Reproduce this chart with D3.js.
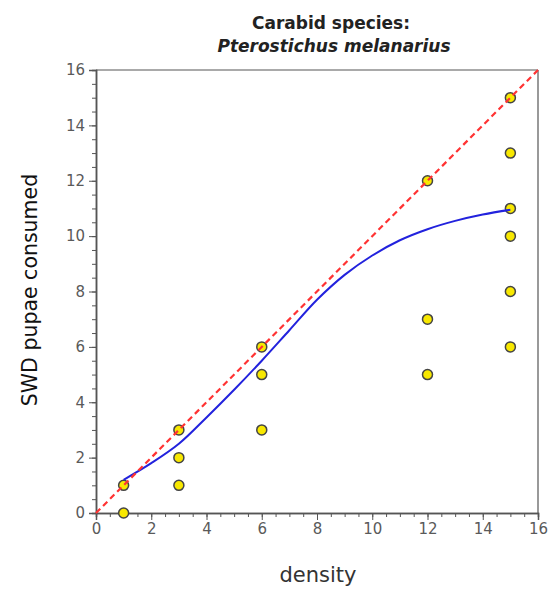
<!DOCTYPE html>
<html><head><meta charset="utf-8">
<script src="https://cdn.jsdelivr.net/npm/d3@7"></script>
<style>body{margin:0;background:#fff;} svg{display:block;}</style>
</head><body>
<svg id="c" width="558" height="591"></svg>
<script>
const pointX = [1,1, 3,3,3, 6,6,6, 12,12,12, 15,15,15,15,15,15];
const pointY = [0,1, 1,2,3, 3,5,6, 5,7,12, 6,8,10,11,13,15];
const curveX = [1,2,3,4,5,6,7,8,9,10,11,12,13,14,15];
const curveY = [1.2,1.8,2.5,3.45,4.45,5.5,6.6,7.7,8.6,9.3,9.85,10.25,10.55,10.78,10.95];
const refLine = [0,16];
const xTicks = [0,2,4,6,8,10,12,14,16];
const yTicks = [0,2,4,6,8,10,12,14,16];

const svg = d3.select("#c");
const L=96, R=538, T=70, B=513;
const x = d3.scaleLinear().domain([0,16]).range([L,R]);
const y = d3.scaleLinear().domain([0,16]).range([B,T]);
const axisCol="#555", font="DejaVu Sans, Verdana, sans-serif";

// frame top & right
svg.append("line").attr("x1",L).attr("x2",R).attr("y1",T).attr("y2",T).attr("stroke","#555").attr("stroke-width",1);
svg.append("line").attr("x1",R).attr("x2",R).attr("y1",T).attr("y2",B).attr("stroke","#999").attr("stroke-width",2);

const minor = d3.range(0,16.01,0.5);
function styleAxis(g){
  g.select(".domain").attr("stroke",axisCol).attr("stroke-width",1.5);
  g.selectAll("line").attr("stroke",axisCol);
  g.selectAll("text").attr("fill","#5a5a5a").attr("font-family",font).attr("font-size","15px");
}
// minor ticks
svg.append("g").attr("transform",`translate(0,${B})`).call(d3.axisBottom(x).tickValues(minor).tickSize(4).tickFormat("")).call(styleAxis);
svg.append("g").attr("transform",`translate(${L},0)`).call(d3.axisLeft(y).tickValues(minor).tickSize(4).tickFormat("")).call(styleAxis);
// major ticks
svg.append("g").attr("transform",`translate(0,${B})`).call(d3.axisBottom(x).tickValues(xTicks).tickSize(7).tickPadding(3).tickFormat(d3.format("d"))).call(styleAxis);
svg.append("g").attr("transform",`translate(${L},0)`).call(d3.axisLeft(y).tickValues(yTicks).tickSize(7).tickPadding(4).tickFormat(d3.format("d"))).call(styleAxis);

// points
svg.append("g").selectAll("circle").data(pointX.map((d,i)=>[d,pointY[i]])).join("circle")
  .attr("cx",d=>x(d[0])).attr("cy",d=>y(d[1])).attr("r",5)
  .attr("fill","#f8e800").attr("stroke","#444").attr("stroke-width",1.5);

// blue curve
svg.append("path").datum(curveX.map((d,i)=>[d,curveY[i]]))
  .attr("d",d3.line().x(d=>x(d[0])).y(d=>y(d[1])).curve(d3.curveCatmullRom))
  .attr("fill","none").attr("stroke","#2222dd").attr("stroke-width",2);

// red dashed 1:1 line
svg.append("line").attr("x1",x(refLine[0])).attr("y1",y(refLine[0])).attr("x2",x(refLine[1])).attr("y2",y(refLine[1]))
  .attr("stroke","#ff3333").attr("stroke-width",2.2).attr("stroke-dasharray","6,4");

// titles
svg.append("text").attr("x",331).attr("y",29).attr("text-anchor","middle").attr("font-family",font)
  .attr("font-weight","bold").attr("font-size","17px").attr("fill","#222").text("Carabid species:");
svg.append("text").attr("x",334).attr("y",52).attr("text-anchor","middle").attr("font-family",font)
  .attr("font-weight","bold").attr("font-style","italic").attr("font-size","17px").attr("fill","#222").text("Pterostichus melanarius");
svg.append("text").attr("x",318).attr("y",582).attr("text-anchor","middle").attr("font-family",font)
  .attr("font-size","21px").attr("fill","#333").text("density");
svg.append("text").attr("transform","translate(37,290) rotate(-90)").attr("text-anchor","middle").attr("font-family",font)
  .attr("font-size","20.5px").attr("fill","#111").text("SWD pupae consumed");
</script>
</body></html>
